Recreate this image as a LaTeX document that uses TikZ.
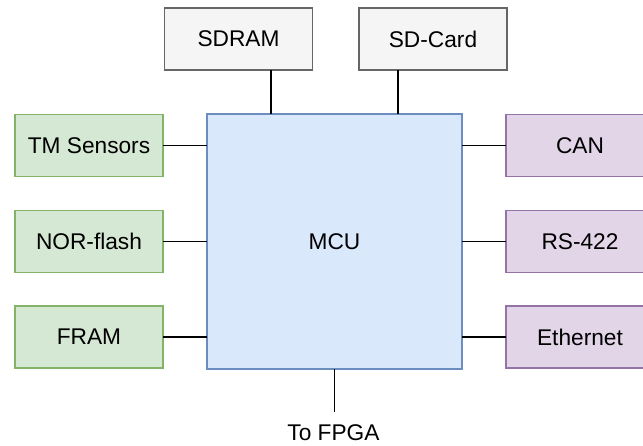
\documentclass[tikz,border=0pt]{standalone}
\usepackage{fontspec}
\setmainfont{Liberation Sans}
\definecolor{grayfill}{HTML}{F5F5F5}
\definecolor{graydraw}{HTML}{666666}
\definecolor{greenfill}{HTML}{D5E8D4}
\definecolor{greendraw}{HTML}{82B366}
\definecolor{bluefill}{HTML}{DAE8FC}
\definecolor{bluedraw}{HTML}{6C8EBF}
\definecolor{purplefill}{HTML}{E1D5E7}
\definecolor{purpledraw}{HTML}{9673A6}
\tikzset{
  box/.style={rectangle, line width=1.9pt, minimum width=148pt, minimum height=62pt,
    inner sep=0pt, outer sep=0pt, font=\fontsize{22.7}{27}\selectfont},
  memory/.style={box, fill=grayfill, draw=graydraw},
  periph/.style={box, fill=greenfill, draw=greendraw},
  bus/.style={box, fill=purplefill, draw=purpledraw},
  core/.style={box, fill=bluefill, draw=bluedraw, minimum width=255pt, minimum height=255pt},
  link/.style={line width=1.9pt, draw=black},
  label/.style={font=\fontsize{22.7}{27}\selectfont, inner sep=0pt}
}
\begin{document}
\begin{tikzpicture}[x=1pt, y=-1pt]
  \useasboundingbox (0,0) rectangle (643,445);
  \clip (0,0) rectangle (643,445);

  % processor
  \node[core] (mcu) at (334.5,241.5) {MCU};

  % external memories
  \node[memory] (sdram)  at (238.5,39) {SDRAM};
  \node[memory] (sdcard) at (433,39)   {SD-Card};

  % local peripherals
  \node[periph] (tm)   at (89,145.5) {TM Sensors};
  \node[periph] (nor)  at (89,241.5) {NOR-flash};
  \node[periph] (fram) at (89,337)   {FRAM};

  % communication interfaces
  \node[bus] (can)  at (580,145.5) {CAN};
  \node[bus] (rs)   at (580,241.5) {RS-422};
  \node[bus] (eth)  at (580,337)   {Ethernet};

  % memory links
  \draw[link] ([xshift=-63.5pt]mcu.north) coordinate (sdramport) -- (sdramport |- sdram.south);
  \draw[link] ([xshift=63.5pt]mcu.north) coordinate (sdcardport) -- (sdcardport |- sdcard.south);

  % peripheral links
  \draw[link] (tm.east)   -- (tm.east -| mcu.west);
  \draw[link] (nor.east)  -- (nor.east -| mcu.west);
  \draw[link] (fram.east) -- (fram.east -| mcu.west);

  % interface links
  \draw[link] (can.west) -- (can.west -| mcu.east);
  \draw[link] (rs.west)  -- (rs.west -| mcu.east);
  \draw[link] (eth.west) -- (eth.west -| mcu.east);

  % FPGA connection
  \coordinate (fpgaend) at (334.5,412);
  \draw[link] (mcu.south) -- (fpgaend);
  \node[label] (fpga) at (333.5,433) {To FPGA};
\end{tikzpicture}
\end{document}
